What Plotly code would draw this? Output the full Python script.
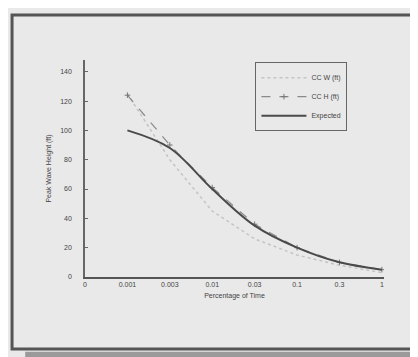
import plotly.graph_objects as go

categories = ["0", "0.001", "0.003", "0.01", "0.03", "0.1", "0.3", "1"]
cc_w = [None, 125, 80, 45, 26, 15, 8, 3]
cc_h = [None, 124, 90, 61, 36, 20, 10, 5]
expected = [None, 100, 88, 60, 35, 20, 10, 5]
y_ticks = [0, 20, 40, 60, 80, 100, 120, 140]

fig = go.Figure()
fig.add_trace(go.Scatter(x=categories, y=cc_w, name="CC W (ft)", mode="lines",
                         line=dict(color="#c4c4c4", width=1.5, dash="dot")))
fig.add_trace(go.Scatter(x=categories, y=cc_h, name="CC H (ft)", mode="lines+markers",
                         line=dict(color="#8a8a8a", width=1.2, dash="dash"),
                         marker=dict(symbol="cross-thin", size=4, line=dict(color="#777", width=1))))
fig.add_trace(go.Scatter(x=categories, y=expected, name="Expected", mode="lines",
                         line=dict(color="#4a4a4a", width=2, shape="spline")))

bg = "#e9e9e9"
fig.update_layout(
    width=418, height=357,
    margin=dict(l=77, r=42, t=52, b=88),
    paper_bgcolor=bg, plot_bgcolor=bg,
    font=dict(family="Liberation Sans, Arial", size=7, color="#444"),
    showlegend=True,
    legend=dict(x=0.57, y=0.99, xanchor="left", yanchor="top",
                bgcolor=bg, bordercolor="#666", borderwidth=1,
                font=dict(size=7, color="#444"), tracegroupgap=0,
                itemwidth=45),
    xaxis=dict(type="category", categoryorder="array", categoryarray=categories,
               range=[0, 7.05], showgrid=False, zeroline=False,
               showline=True, linecolor="#555", linewidth=2,
               ticks="", tickfont=dict(size=7, color="#444"),
               title=dict(text="Percentage of Time", font=dict(size=7, color="#444"), standoff=6)),
    yaxis=dict(range=[0, 148], tickvals=y_ticks, showgrid=False, zeroline=False,
               showline=True, linecolor="#666", linewidth=1.5,
               ticks="inside", ticklen=3, tickcolor="#666",
               tickfont=dict(size=7, color="#444"), ticklabelstandoff=10,
               title=dict(text="Peak Wave Height (ft)", font=dict(size=7, color="#444"), standoff=8)),
)

# photo frame around chart
fig.add_shape(type="rect", xref="paper", yref="paper",
              x0=-0.244, x1=1.2, y0=-0.332, y1=1.207,
              line=dict(color="#555", width=3), fillcolor="rgba(0,0,0,0)", layer="below")
fig.add_shape(type="rect", xref="paper", yref="paper",
              x0=-0.2, x1=1.2, y0=-0.37, y1=-0.345,
              line=dict(width=0), fillcolor="#9a9a9a", layer="below")

fig.write_html("out.html")
